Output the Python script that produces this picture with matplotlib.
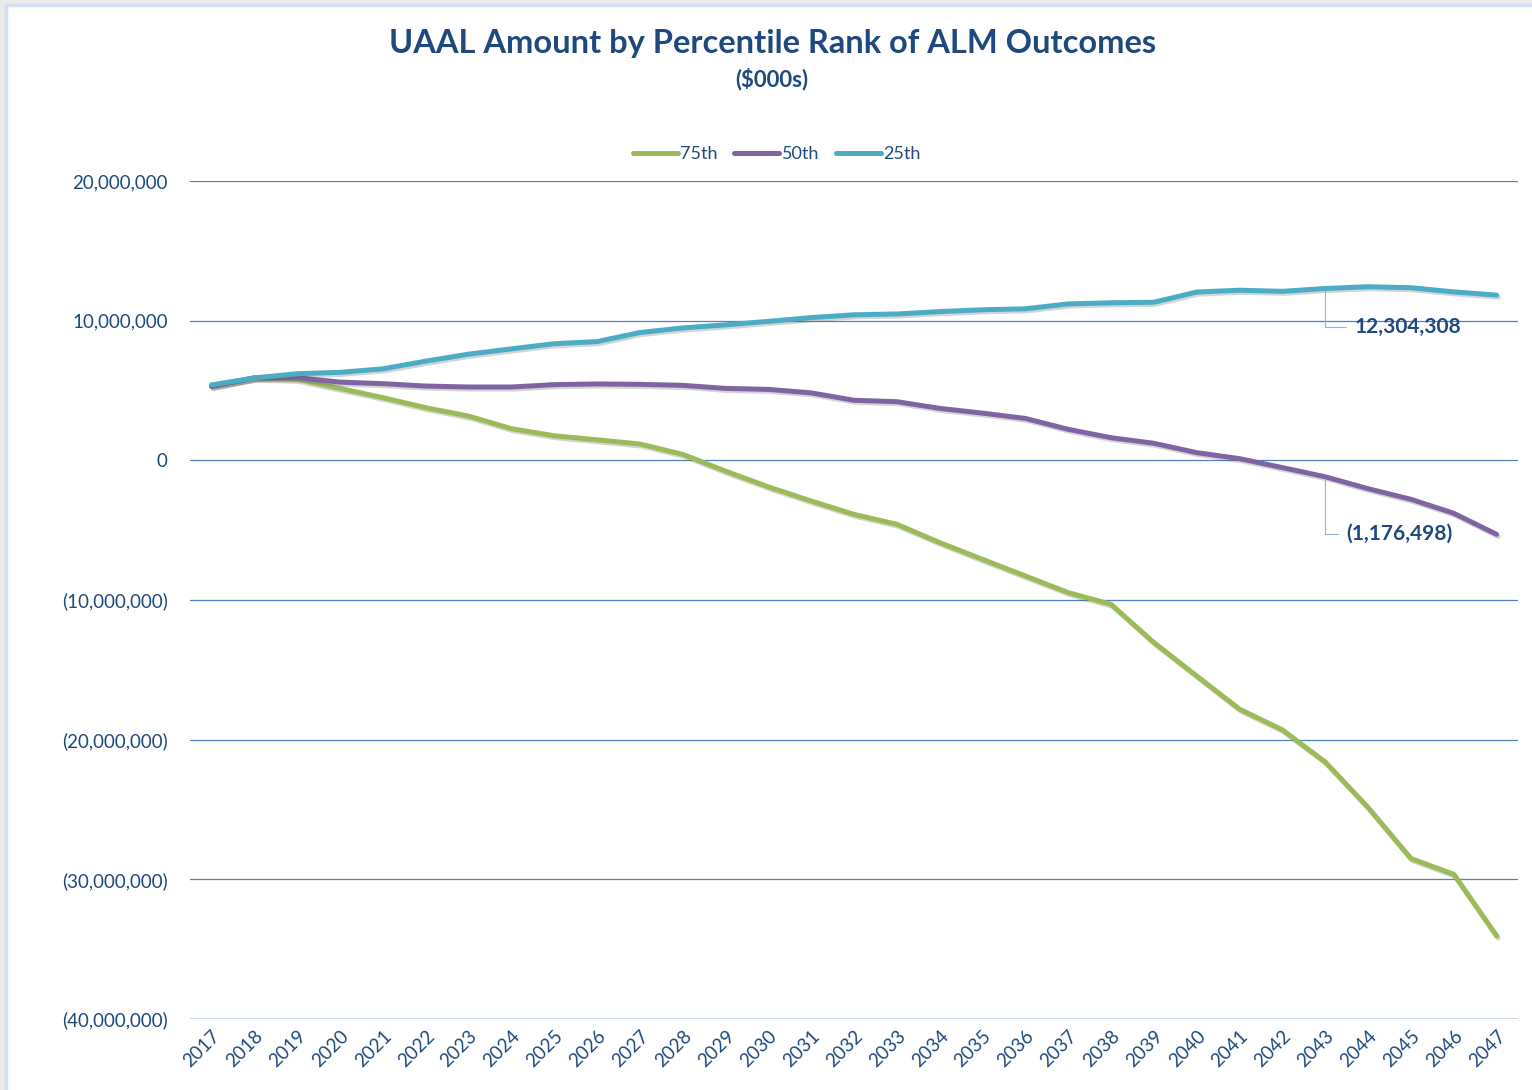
import matplotlib
matplotlib.use("Agg")
import matplotlib.pyplot as plt
import matplotlib.patheffects as pe
from matplotlib.patches import Rectangle
from matplotlib.ticker import FuncFormatter, MultipleLocator

plt.rcParams['font.family'] = ['Lato', 'DejaVu Sans']

years = list(range(2017, 2048))
series_names = ['75th', '50th', '25th']
p75 = [5300000, 5900000, 5800000, 5150000, 4490000, 3770000, 3170000, 2270000,
       1760000, 1470000, 1170000, 430000, -770000, -1900000, -2910000, -3870000,
       -4580000, -5890000, -7090000, -8280000, -9470000, -10310000, -13050000,
       -15440000, -17820000, -19300000, -21600000, -24860000, -28510000,
       -29640000, -34050000]
p50 = [5300000, 5900000, 5920000, 5600000, 5490000, 5320000, 5250000, 5250000,
       5420000, 5470000, 5440000, 5370000, 5150000, 5080000, 4830000, 4300000,
       4200000, 3720000, 3380000, 3000000, 2220000, 1620000, 1220000, 550000,
       120000, -520000, -1176498, -2030000, -2790000, -3790000, -5300000]
p25 = [5400000, 5900000, 6200000, 6300000, 6550000, 7100000, 7600000, 7980000,
       8350000, 8500000, 9150000, 9480000, 9700000, 9950000, 10220000, 10420000,
       10480000, 10650000, 10780000, 10850000, 11200000, 11280000, 11320000,
       12050000, 12180000, 12100000, 12304308, 12430000, 12360000, 12060000,
       11830000]
label_year = 2043

colors = ['#9bbb59', '#8064a2', '#4bacc6']
text_color = '#1f497d'

fig = plt.figure(figsize=(15.32, 10.90), dpi=100)
fig.patch.set_facecolor('#ebebeb')
# white chart area with a thin light-blue border
frame = Rectangle((6 / 1532, -0.01), 1.02, 1 - 5 / 1090 + 0.01,
                  transform=fig.transFigure, facecolor='white',
                  edgecolor='#d3e0f2', linewidth=2.5, zorder=-10)
fig.patches.append(frame)

ax = fig.add_axes([190 / 1532, 1 - 1019 / 1090, 1328 / 1532, (1019 - 181) / 1090])
ax.set_facecolor('none')
ax.set_zorder(1)

shadow = [pe.SimpleLineShadow(offset=(1.2, -1.5), alpha=0.25, shadow_color='#555555'),
          pe.Normal()]
for name, vals, c in zip(series_names, [p75, p50, p25], colors):
    ax.plot(years, vals, color=c, lw=3.6, label=name, solid_capstyle='round',
            path_effects=shadow, zorder=3)

ax.set_xlim(2016.5, 2047.5)
ax.set_ylim(-40000000, 20000000)
ax.yaxis.set_major_locator(MultipleLocator(10000000))
ax.yaxis.set_major_formatter(FuncFormatter(
    lambda v, p: f'({abs(v):,.0f})' if v < 0 else f'{v:,.0f}'))
ax.set_xticks(years)
ax.set_xticklabels([str(y) for y in years], rotation=45, ha='right',
                   rotation_mode='anchor')
ax.tick_params(axis='both', length=0, labelsize=13.5, labelcolor=text_color)
ax.tick_params(axis='y', pad=16)
ax.tick_params(axis='x', pad=6)
for s in ax.spines.values():
    s.set_visible(False)
ax.grid(axis='y', color='#4f81bd', lw=0.9, zorder=1)
ax.axhline(-40000000, color='#c5d5ea', lw=1.2, zorder=2)

# data labels for 2043
i = years.index(label_year)
ax.annotate(f'{p25[i]:,.0f}', xy=(years[i], p25[i]), xytext=(21, -28),
            textcoords='offset points', fontsize=15, fontweight='bold',
            color=text_color, ha='left', va='center',
            arrowprops=dict(arrowstyle='-', color='#8db3e2', lw=0.8,
                            connectionstyle='angle,angleA=0,angleB=90,rad=0',
                            shrinkA=4, shrinkB=2))
ax.annotate(f'({abs(p50[i]):,.0f})', xy=(years[i], p50[i]), xytext=(15, -41),
            textcoords='offset points', fontsize=15, fontweight='bold',
            color=text_color, ha='left', va='center',
            arrowprops=dict(arrowstyle='-', color='#8db3e2', lw=0.8,
                            connectionstyle='angle,angleA=0,angleB=90,rad=0',
                            shrinkA=4, shrinkB=2))

fig.text(0.504, 1 - 44 / 1090, 'UAAL Amount by Percentile Rank of ALM Outcomes',
         ha='center', va='center', fontsize=23.5, fontweight='bold', color=text_color)
fig.text(0.504, 1 - 79 / 1090, '($000s)', ha='center', va='center',
         fontsize=16, fontweight='bold', color=text_color)

leg = fig.legend(loc='center', bbox_to_anchor=(0.507, 1 - 154 / 1090), ncol=3,
                 frameon=False, fontsize=13, handlelength=2.5,
                 handletextpad=0.15, columnspacing=0.9)
for t in leg.get_texts():
    t.set_color(text_color)
for h in leg.get_lines():
    h.set_path_effects([])

fig.savefig('out.png', dpi=100, facecolor=fig.get_facecolor())
